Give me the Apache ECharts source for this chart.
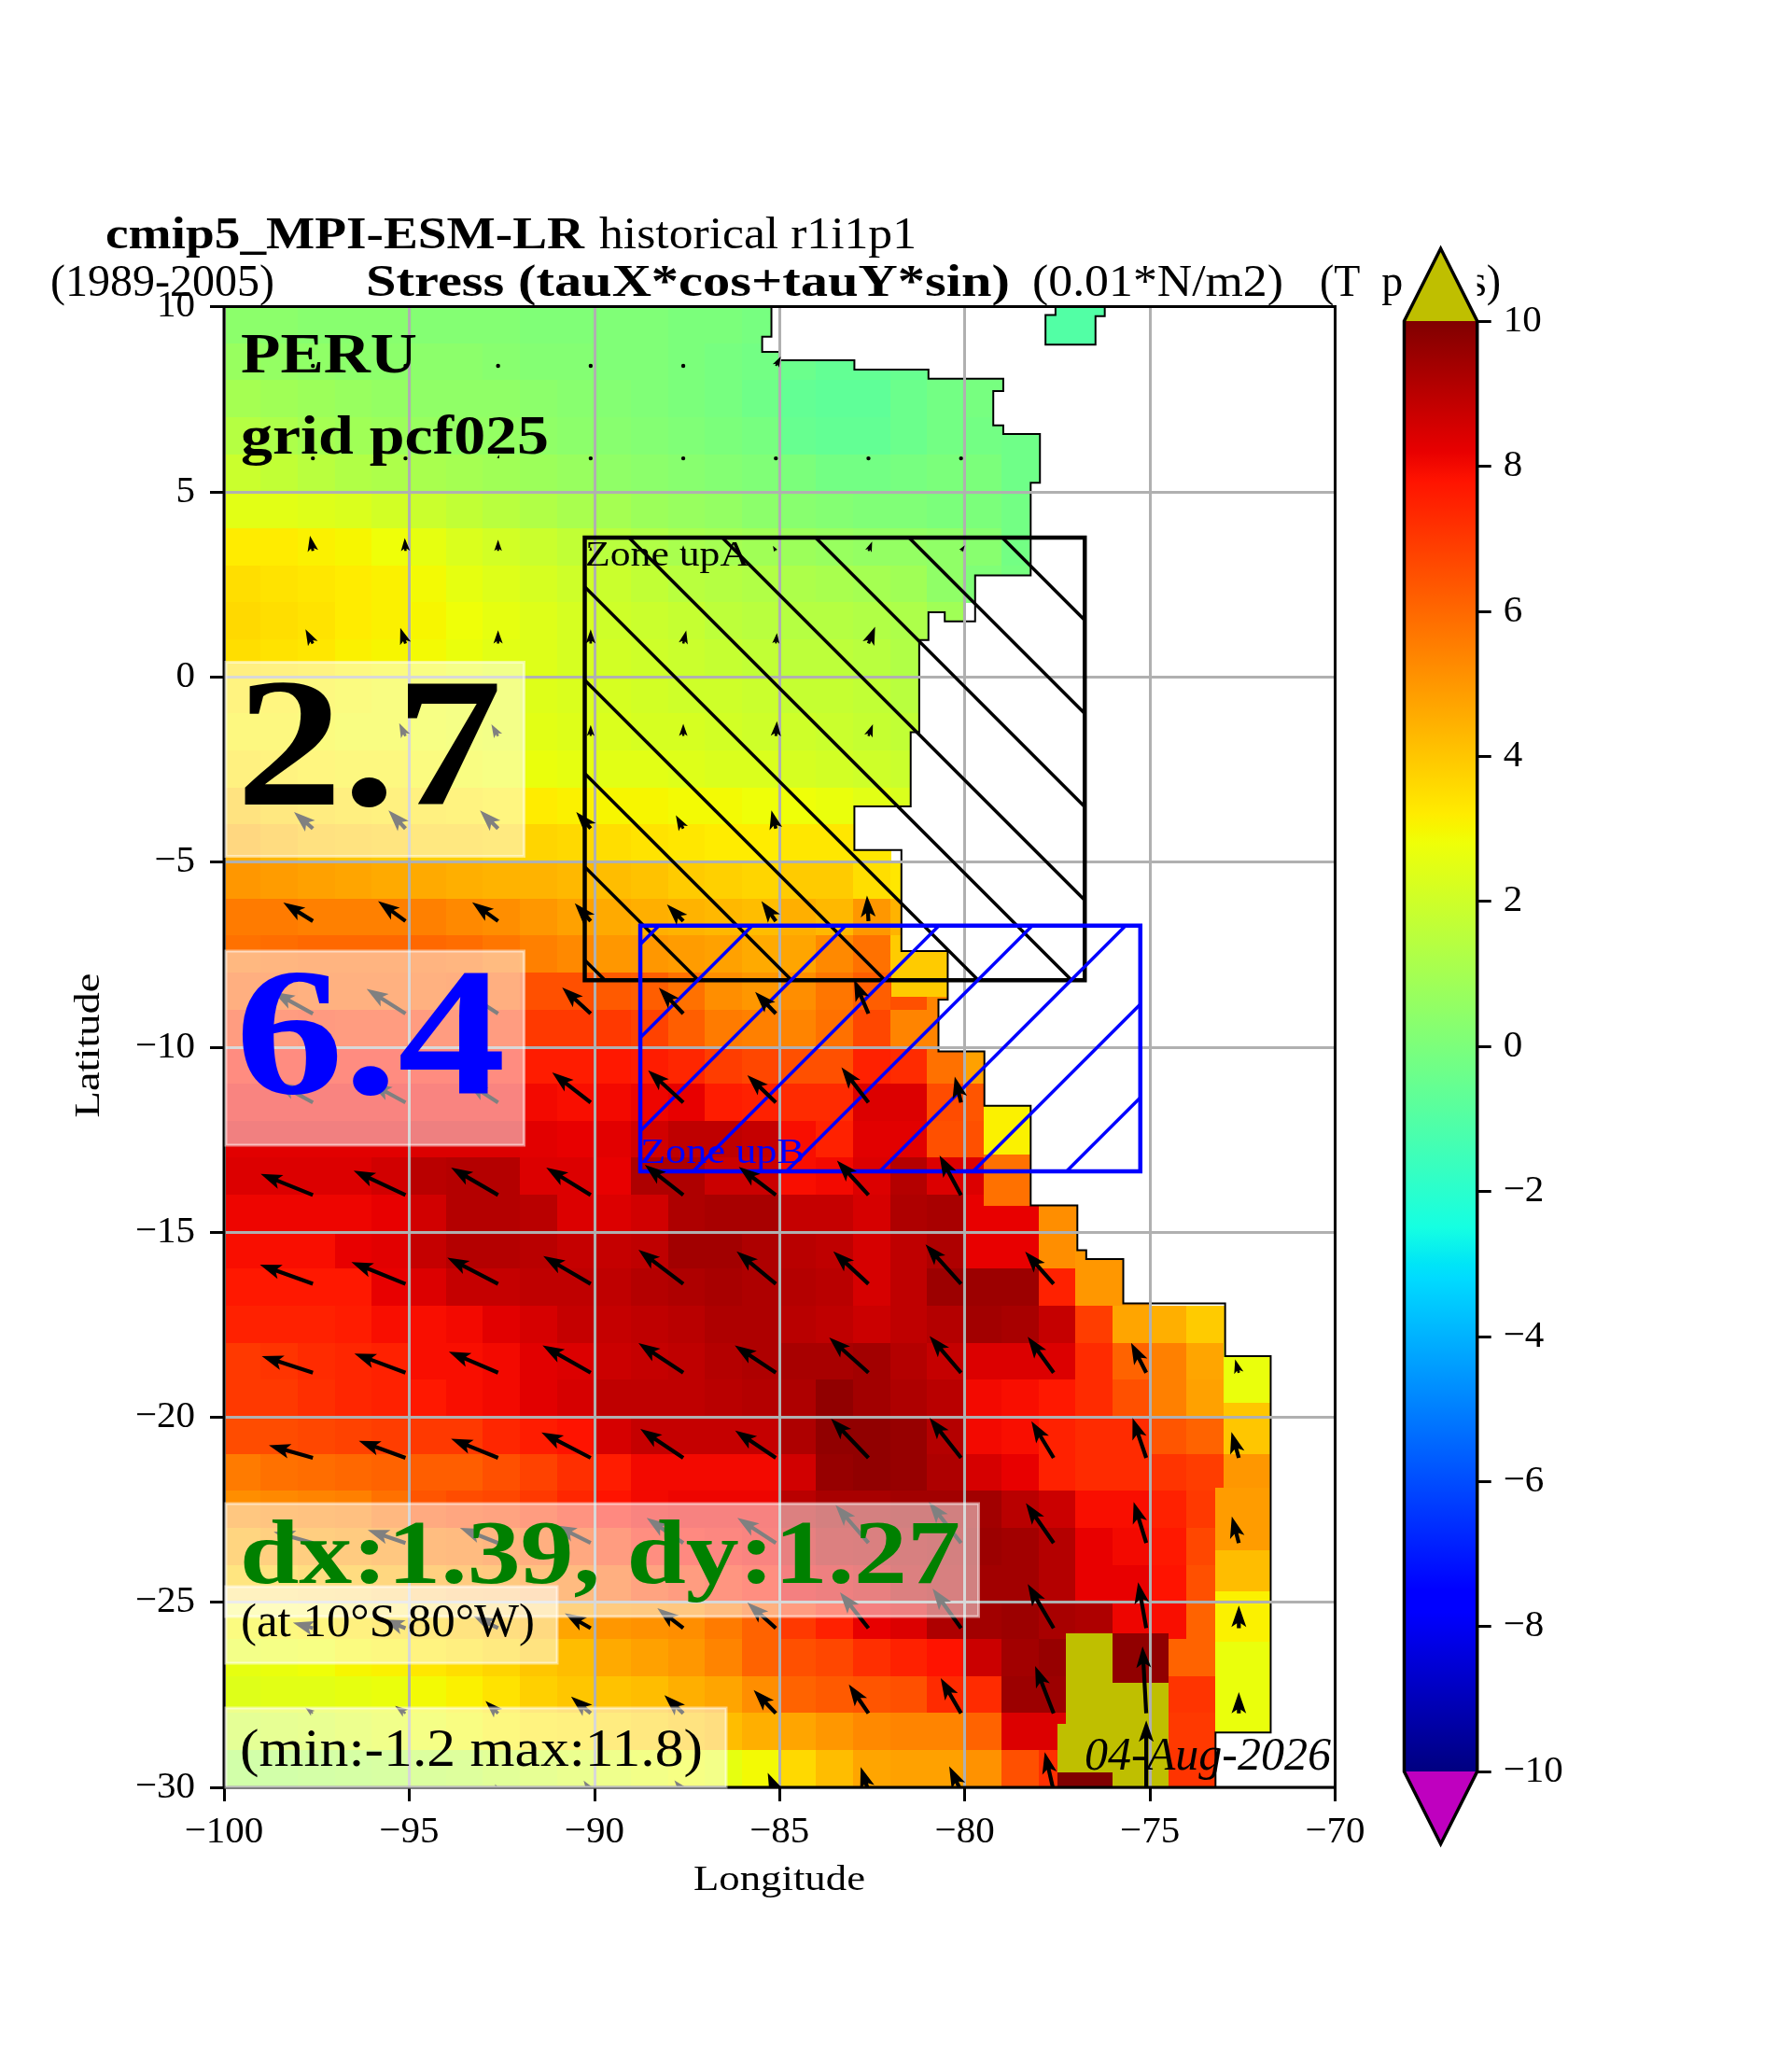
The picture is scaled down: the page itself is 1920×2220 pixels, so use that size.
<!DOCTYPE html>
<html>
<head>
<meta charset="utf-8">
<style>html,body{margin:0;padding:0;background:#fff}#chart{width:1920px;height:2220px}</style>
<script src="https://cdn.jsdelivr.net/npm/echarts@6/dist/echarts.min.js"></script>
</head>
<body>
<div id="chart"></div>
<script>
// ---------- data ----------
const fieldTopLat = 9.5;      // centre latitude of the first row, 1 degree cells
const fieldLeftLon = -100;    // left edge of the first column, 1 degree cells
const fieldRows = [
[.4,.4,.3,.3,.3,.2,.2,.2,.1,.1,.1,.1,0,0,-.1,-.1],
[.7,.6,.5,.4,.4,.4,.4,.3,.2,.2,.1,.1,0,-.1,-.2,-.4,-.6,-.6,-.5,-.3,-.2,-.1],
[1,.9,.8,.7,.6,.5,.5,.5,.4,.3,.2,.1,0,-.1,-.3,-.6,-.7,-.7,-.4,-.2,-.1,-.1],
[1.4,1.2,1,.9,.8,.7,.6,.6,.5,.4,.3,.2,.1,0,-.1,-.5,-.6,-.6,-.4,-.2,-.2,-.3,-.4],
[1.9,1.7,1.5,1.3,1.2,1.1,1,.9,.8,.7,.5,.4,.3,.2,.1,0,-.2,-.2,-.1,0,0,-.3,-.4],
[2.5,2.5,2.4,2.3,2.1,1.9,1.7,1.5,1.3,1.1,1,.8,.7,.6,.4,.3,.2,.1,.1,0,0,-.2],
[3.2,3.2,3.1,3,2.8,2.6,2.3,2.1,1.9,1.7,1.5,1.3,1.1,1,.9,.8,.7,.6,.6,.5,.3,-.2],
[3.5,3.4,3.3,3.2,3.1,2.9,2.6,2.4,2.2,2,1.9,1.7,1.5,1.4,1.3,1.2,1.1,1,.9,.5,.1,-.1],
[3.6,3.5,3.4,3.2,3.1,3,2.8,2.6,2.4,2.2,2,1.9,1.8,1.6,1.5,1.4,1.4,1.3,1.2,.9],
[3.5,3.4,3.3,3.1,3,2.9,2.7,2.5,2.4,2.2,2.1,2,1.9,1.8,1.7,1.6,1.6,1.5,1.3],
[3.3,3.2,3.1,3,2.9,2.8,2.7,2.6,2.4,2.3,2.2,2.1,2,2,1.9,1.8,1.8,1.7,1.5],
[3.1,3.1,3,2.9,2.9,2.8,2.7,2.6,2.5,2.4,2.3,2.2,2.2,2.1,2,2,1.9,1.8,1.7],
[3.4,3.3,3.2,3.1,3.1,3,2.9,2.8,2.7,2.6,2.5,2.5,2.4,2.3,2.3,2.2,2.1,2,1.9],
[4,3.8,3.6,3.5,3.4,3.4,3.3,3.2,3.2,3.1,3,3,2.9,2.9,2.8,2.8,2.7,2.5,2.3],
[4.5,4.3,4.1,4,3.9,3.8,3.8,3.7,3.7,3.6,3.5,3.4,3.3,3.2,3.2,3.3,3.3,3.3],
[5,4.9,4.8,4.7,4.6,4.6,4.5,4.4,4.4,4.3,4.2,4.1,3.9,3.8,3.7,3.9,3.9,3.5,3.3],
[5.6,5.6,5.5,5.5,5.5,5.5,5.3,5.2,5,4.8,4.6,4.5,4.4,4.3,4.2,4.5,4.3,5,4.4],
[5.8,5.9,6,6,6,6,5.9,5.7,5.5,5.3,5,5,4.9,4.8,4.6,4.7,5.3,5.8,3.9,3.9],
[6.2,6.2,6.1,6.1,6.1,6.1,6.2,6.2,6.5,6.5,6.3,6.2,5.8,5.2,5,5.2,5.7,6.2,6.5,5.4,3.9],
[7,7,7.1,7,7,7,7,7,7,7,7,6.8,6.2,5.6,5.5,5.4,5.8,6.7,5.4,5.4],
[7.7,7.7,7.7,7.7,7.7,7.7,7.7,7.7,7.6,7.6,7.7,7.6,7.4,6.9,6.7,6.5,6.5,7.5,7.3,5.8,4.8],
[8,8,8,8,8,8,8,8,8,7.9,8,8.1,8.2,7.6,7.5,7.3,7.3,8.4,8.4,6.6,6.4,3.1],
[8.3,8.3,8.3,8.3,8.3,8.4,8.4,8.4,8.3,8.2,8.3,8.6,8.9,8.9,8.8,7.9,7.5,8.3,8.3,6.5,6.5,3.1],
[8.4,8.4,8.4,8.4,8.6,9,9.1,9.1,8.4,8.4,8.2,9.2,9.2,8.7,8.7,7.9,8,8.4,9.1,8.4,8.4,5.8],
[8.1,8.1,8.1,8.1,8.2,8.6,9.1,9.1,9,8.4,8.4,8.6,9.2,9.3,9.3,8.8,8.8,8.5,9.2,9.3,8.2,8.2,5.2,5.2],
[7.9,7.9,7.9,8.2,8.3,8.8,9.1,9.1,9,8.8,8.8,8.9,9.4,9.4,9.2,9,8.9,8.5,8.9,9.2,8.2,8.2,5.2,5,5],
[7.7,7.7,7.7,7.7,8.2,8.4,8.8,8.8,8.9,8.9,8.9,9.1,9.2,9.3,9.2,9.1,9,8.5,8.9,9.5,9.5,9.5,7.5,5,5],
[7.5,7.5,7.5,7.6,7.9,7.9,8,8.3,8.5,8.8,8.8,8.9,9,9.2,9.2,9,8.9,8.7,8.9,9.1,9.4,9.3,8.8,6.9,4.7,4.5,3.9],
[7,7.1,7.3,7.4,7.5,7.9,7.9,8,8.3,8.4,8.7,8.8,8.9,9.1,9.2,9.3,9.3,9.4,9.1,8.8,8.4,8.4,8.4,7.3,6.1,5.5,4.7,2.7,2.7],
[7,7,7.2,7.4,7.5,7.7,7.9,8,8.3,8.5,8.9,8.9,8.9,9,9.1,9.2,9.7,9.4,9.2,9,8,7.9,7.7,7.3,6.5,5.5,4.8,4,4],
[6.6,6.6,6.7,6.8,6.9,7,7,7.4,7.6,7.8,8.5,8.8,8.8,8.8,8.8,9.2,9.7,9.7,9.6,9.1,8,7.9,7.5,7.3,7.3,6.4,6.1,4,4],
[5.6,5.8,5.9,6,6.1,6.2,6.2,6.5,6.8,7.2,7.6,8,8,8,8,8.6,9.6,9.7,9.6,9.2,8.5,8.2,7.5,7.3,7.3,7.1,6.9,5,5],
[5.2,5.3,5.4,5.5,5.8,6.4,6.6,6.7,7,7.4,7.8,8,8.1,8.1,8.1,9,9.3,9.3,9.4,9.4,9.4,9,8.7,7.9,7.9,7.5,7,5,5],
[4.6,4.8,4.9,5,5.2,5.6,5.7,5.9,6.2,6.5,7,7.6,7.8,7.9,8,8.6,9,9.1,9.2,9.3,9.5,9.4,9.1,8.2,8,7.7,6.7,4.2,4.2],
[3.9,4,4.2,4.3,4.5,4.8,5,5.1,5.4,5.7,6.2,6.7,7,7.3,7.6,8.2,8.4,8.6,9,9.2,9.4,9.4,9.1,8.2,8.2,7.8,6.5,4.2,4.2],
[3,3.1,3.2,3.4,3.6,3.8,4,4.2,4.4,4.7,5,5.1,5.2,5.6,6.1,7,7.5,8.2,8.4,9.2,9.4,9.5,9.3,9.2,8.1,7.9,6.1,3.1,3.1],
[2.6,2.7,2.8,3,3.1,3.3,3.5,3.7,4,4.2,4.6,4.8,5,5.4,6.1,6.5,6.7,7.2,7.5,7.8,8.7,9.4,9.6,9.6,9.7,6.1,6.1,2.7,2.7],
[2.4,2.5,2.5,2.6,2.7,2.9,3.1,3.4,3.8,4,4.1,4.2,4.5,4.7,5.2,6.1,6.3,6.4,6.5,7.3,7.3,9.5,9.5,9.5,9.5,7.1,7.1,2.7,2.7],
[1.9,2,2.1,2.3,2.5,2.7,2.9,3.1,3.3,3.4,3.6,3.8,4,4.2,4.5,4.7,5,5.3,5.4,5.4,6.1,8.4,8.4,8.4,7,7,7,2.7,2.7],
[1,1,1.1,1.2,1.3,1.5,1.6,1.8,2,2.2,2.4,2.6,2.8,2.6,2.9,3.6,4.2,4.7,4.8,4.8,5.1,6.5,7.2,7.2,7.1,7.1,7.1]
];
// finer areas of the field: lon from, lon to, lat from, lat to, value
const fieldPatchLon0 = [-77.27,-76.01,-77.27,-77.5,-77.5,-79.5,-79.5,-81.98,-73.25,-73.25,-73.25,-73.25,-73,-73];
const fieldPatchLon1 = [-76.01,-74.5,-74.5,-74.5,-76.01,-78.22,-78.22,-80.46,-71.74,-71.74,-71.74,-71.74,-71.74,-71.74];
const fieldPatchLat0 = [-27.18,-27.18,-28.28,-30,-30,-12.9,-14.28,-8.65,-23.6,-24.7,-26.07,-28.52,-21,-19.62];
const fieldPatchLat1 = [-25.84,-25.84,-27.18,-28.28,-29.6,-11.59,-12.9,-7.41,-21.9,-23.6,-24.7,-26.07,-20,-18.35];
const fieldPatchVal  = [12,9.7,12,12,10,3.1,5.8,3.9,4.9,4.2,3.1,2.7,4,2.7];

const coastLon = [-85.22,-85.22,-85.47,-85.47,-84.99,-84.99,-82.98,-82.98,-80.98,-80.98,-78.96,-78.96,-79.23,-79.23,-78.96,-78.96,-77.97,-77.97,-78.22,-78.22,-79.72,-79.72,-80.54,-80.54,-80.98,-80.98,-81.23,-81.23,-81.46,-81.46,-82.98,-82.98,-81.71,-81.71,-80.46,-80.46,-80.71,-80.71,-79.47,-79.47,-78.22,-78.22,-76.96,-76.96,-76.72,-76.72,-75.72,-75.72,-72.97,-72.97,-71.74,-71.74,-73.23,-73.23];
const coastLat = [10,9.19,9.19,8.78,8.78,8.55,8.55,8.3,8.3,8.05,8.05,7.72,7.72,6.79,6.79,6.56,6.56,5.24,5.24,2.74,2.74,1.5,1.5,1.74,1.74,.99,.99,-1.5,-1.5,-3.5,-3.5,-4.68,-4.68,-7.41,-7.41,-8.72,-8.72,-10.12,-10.12,-11.59,-11.59,-14.28,-14.28,-15.49,-15.49,-15.73,-15.73,-16.93,-16.93,-18.35,-18.35,-28.52,-28.52,-30];
const islandLon = [-76.22,-76.22,-76.47,-76.47,-77.82,-77.82,-77.55,-77.55];
const islandLat = [10,9.74,9.74,8.97,8.97,9.77,9.77,10];
const islandValue = -1;

const arrowLons = [-97.6,-95.1,-92.6,-90.1,-87.6,-85.1,-82.6,-80.1,-77.6,-75.1,-72.6];
const arrowLats = [8.4,5.9,3.4,.9,-1.6,-4.1,-6.6,-9.1,-11.5,-14,-16.4,-18.8,-21.1,-23.4,-25.7,-28,-30.1];
const arrowU = [
[-.02,0,0,-.06,-.06,.13],
[0,0,.03,0,0,0,0,-.05],
[-.08,-.02,0,0,0,-.08,.1,.1],
[-.2,-.14,0,0,.08,.03,.18],
[-.2,-.17,-.18,0,0,.03,.12],
[-.51,-.46,-.49,-.39,-.2,-.12],
[-.8,-.74,-.7,-.43,-.44,-.39,-.04],
[-1.07,-1.05,-.9,-.77,-.66,-.56,-.39],
[-1,-.95,-.85,-1.04,-.95,-.77,-.73,-.17],
[-1.41,-1.4,-1.27,-1.2,-1.04,-1,-.85,-.58],
[-1.43,-1.46,-1.37,-1.28,-1.21,-1.06,-.95,-.96,-.77],
[-1.38,-1.38,-1.33,-1.3,-1.21,-1.11,-1.06,-.85,-.7,-.41,-.1],
[-1.19,-1.26,-1.27,-1.33,-1.16,-1.1,-1.01,-.85,-.6,-.37,-.2],
[-1.06,-1.02,-1.03,-.96,-.99,-1.04,-.89,-.87,-.75,-.34,-.19],
[-.54,-.61,-.67,-.7,-.7,-.77,-.77,-.77,-.7,-.22,0],
[-.2,-.28,-.34,-.53,-.51,-.6,-.53,-.55,-.5,-.1,0],
[-.1,-.08,-.08,-.19,-.24,-.22,-.21,-.32,-.24,0]
];
const arrowV = [
[.04,.05,.04,.04,.04,.25],
[.1,.1,.1,.03,.03,.03,.03,.06],
[.41,.35,.3,.12,.15,.14,.25,.15],
[.38,.42,.36,.38,.35,.28,.45],
[.3,.35,.32,.3,.33,.4,.32],
[.45,.49,.49,.45,.36,.49],
[.5,.54,.51,.48,.45,.54,.69],
[.59,.67,.58,.71,.7,.59,.92],
[.55,.52,.55,.81,.87,.74,.95,.7],
[.57,.66,.74,.74,.82,.76,.93,1.07],
[.52,.59,.71,.75,.92,.88,.88,1.07,.87],
[.45,.52,.57,.74,.8,.74,.95,.99,.97,.81,.36],
[.34,.46,.52,.69,.78,.74,1.06,1.08,.99,1.08,.7],
[.3,.35,.41,.48,.68,.68,1.03,1.11,1.08,1.11,.72],
[.15,.23,.33,.4,.54,.69,.97,1.07,1.19,1.24,.61],
[.15,.2,.33,.45,.49,.63,.78,.95,1.28,1.81,.57],
[.08,.1,.19,.28,.29,.49,.65,.67,1.05,1.91]
];
const zoneALon = [-90.26,-76.76];
const zoneALat = [-8.2,3.76];
const zoneBLon = [-88.76,-75.26];
const zoneBLat = [-13.36,-6.72];

const xTicks = {min:-100,max:-70,interval:5};
const yTicks = {min:-30,max:10,interval:5};
const cbarTicks = {min:-10,max:10,interval:2};
const cbarExtend = 1;

// ---------- colour scale (jet with over / under colours) ----------
const jetR = [[0,0],[.35,0],[.66,1],[.89,1],[1,.5]];
const jetG = [[0,0],[.125,0],[.375,1],[.64,1],[.91,0],[1,0]];
const jetB = [[0,.5],[.11,1],[.34,1],[.65,0],[1,0]];
const overColor = 'rgb(191,191,0)';
const underColor = 'rgb(191,0,191)';
function knot(tab,t){for(let i=1;i<tab.length;i++){if(t<=tab[i][0]){const a=tab[i-1],b=tab[i];return a[1]+(b[1]-a[1])*(t-a[0])/(b[0]-a[0]);}}return tab[tab.length-1][1];}
function jet(t){return 'rgb('+Math.round(255*knot(jetR,t))+','+Math.round(255*knot(jetG,t))+','+Math.round(255*knot(jetB,t))+')';}
function colorOf(v){if(v>10)return overColor;if(v<-10)return underColor;return jet((v+10)/20);}

// ---------- chart ----------
const FONT='"Liberation Serif"';
const chart=echarts.init(document.getElementById('chart'),null,{renderer:'canvas',width:1920,height:2220});
const fieldData=[];
fieldRows.forEach((row,i)=>row.forEach((v,j)=>fieldData.push([fieldLeftLon+j,fieldTopLat-i,v])));
const patchData=fieldPatchVal.map((v,i)=>[fieldPatchLon0[i],fieldPatchLat0[i],fieldPatchLon1[i],fieldPatchLat1[i],v]);
const arrowData=[];
arrowU.forEach((row,i)=>row.forEach((u,j)=>arrowData.push([arrowLons[j],arrowLats[i],u,arrowV[i][j]])));

function pts(lons,lats,api){return lons.map((x,i)=>api.coord([x,lats[i]]));}
const measure=document.createElement('canvas').getContext('2d');
function label(str,x,base,size,opt){
  opt=opt||{};
  const font=(opt.style||'')+' '+(opt.weight||'')+' '+size+'px '+FONT;
  measure.font=font;
  const w=measure.measureText(str).width;
  const sx=opt.width?opt.width/w:1;
  const off=0.26*size;
  const rot=opt.rotation||0;
  return {type:'text',silent:true,z:opt.z===undefined?30:opt.z,x:x+(rot?-off:0),y:base-(rot?0:off),scaleX:sx,rotation:rot,
    style:{text:str,font:font,fill:opt.color||'#000',textAlign:opt.align||'left',textVerticalAlign:'middle'}};
}
function box(x0,y0,x1,y1){
  return {type:'rect',silent:true,z:20,shape:{x:x0+2,y:y0+2,width:x1-x0-4,height:y1-y0-4},
    style:{fill:'rgba(255,255,255,0.5)',stroke:'rgba(255,255,255,0.5)',lineWidth:3}};
}
function tickFmt(v){return String(v).replace('-','\u2212');}
function hatchLines(x0,y0,x1,y1,dir,off,step,color){
  const out=[];
  if(dir<0){ // "\" : y-x=c
    for(let c=y0-x1+((off-(y0-x1))%step+step)%step;c<y1-x0;c+=step){
      const a=Math.max(x0,y0-c),b=Math.min(x1,y1-c);
      if(b>a)out.push({type:'line',shape:{x1:a,y1:a+c,x2:b,y2:b+c},style:{stroke:color,lineWidth:3.5}});
    }
  }else{ // "/" : x+y=c
    for(let c=x0+y0+off;c<x1+y1;c+=step){
      const a=Math.max(x0,c-y1),b=Math.min(x1,c-y0);
      if(b>a)out.push({type:'line',shape:{x1:a,y1:c-a,x2:b,y2:c-b},style:{stroke:color,lineWidth:3.5}});
    }
  }
  return out;
}
function zoneRender(lons,lats,color,dir,off){
  return function(params,api){
    const p0=api.coord([lons[0],lats[1]]),p1=api.coord([lons[1],lats[0]]);
    const kids=hatchLines(p0[0],p0[1],p1[0],p1[1],dir,off(p0,p1),100,color);
    kids.push({type:'rect',shape:{x:p0[0],y:p0[1],width:p1[0]-p0[0],height:p1[1]-p0[1]},style:{fill:'none',stroke:color,lineWidth:4.5}});
    return {type:'group',children:kids};
  };
}
const option={
  animation:false,
  backgroundColor:'#fff',
  grid:[
    {left:240,top:328.5,width:1190.5,height:1586.5,containLabel:false},
    {left:1504.5,top:344,width:78.2,height:1554,containLabel:false}
  ],
  xAxis:[
    Object.assign({type:'value',gridIndex:0,position:'bottom',z:3,
      axisLine:{show:false,onZero:false},
      axisTick:{show:true,length:15,lineStyle:{color:'#000',width:3}},
      axisLabel:{fontFamily:FONT,fontSize:41,color:'#000',margin:28,formatter:tickFmt},
      splitLine:{show:true,lineStyle:{color:'#b0b0b0',width:3}}},xTicks),
    {type:'value',gridIndex:1,min:0,max:1,show:false}
  ],
  yAxis:[
    Object.assign({type:'value',gridIndex:0,position:'left',z:3,
      axisLine:{show:false,onZero:false},
      axisTick:{show:true,length:15,lineStyle:{color:'#000',width:3}},
      axisLabel:{fontFamily:FONT,fontSize:41,color:'#000',margin:31,formatter:tickFmt},
      splitLine:{show:true,lineStyle:{color:'#b0b0b0',width:3}}},yTicks),
    Object.assign({type:'value',gridIndex:1,position:'right',z:6,
      axisLine:{show:false,onZero:false},
      axisTick:{show:true,length:15,lineStyle:{color:'#000',width:3}},
      axisLabel:{fontFamily:FONT,fontSize:41,color:'#000',margin:28,formatter:tickFmt},
      splitLine:{show:false}},cbarTicks)
  ],
  series:[
    {type:'custom',name:'field',xAxisIndex:0,yAxisIndex:0,z:1,silent:true,clip:true,data:fieldData,
      encode:{x:0,y:1},
      renderItem:function(params,api){
        const lon=api.value(0),lat=api.value(1);
        const a=api.coord([lon,lat+.5]),b=api.coord([lon+1,lat-.5]);
        const x0=Math.floor(a[0]),y0=Math.floor(a[1]),x1=Math.ceil(b[0]),y1=Math.ceil(b[1]);
        return {type:'rect',shape:{x:x0,y:y0,width:x1-x0,height:y1-y0},style:{fill:colorOf(api.value(2))}};
      }},
    {type:'custom',name:'fieldPatches',xAxisIndex:0,yAxisIndex:0,z:1,silent:true,clip:true,data:patchData,
      encode:{x:0,y:1},
      renderItem:function(params,api){
        const a=api.coord([api.value(0),api.value(3)]),b=api.coord([api.value(2),api.value(1)]);
        const x0=Math.round(a[0]),y0=Math.round(a[1]),x1=Math.round(b[0]),y1=Math.round(b[1]);
        return {type:'rect',shape:{x:x0,y:y0,width:x1-x0,height:y1-y0},style:{fill:colorOf(api.value(4))}};
      }},
    {type:'custom',name:'land',xAxisIndex:0,yAxisIndex:0,z:2,silent:true,clip:true,data:[[-70,10]],
      renderItem:function(params,api){
        const c=pts(coastLon,coastLat,api);
        const land=c.concat([api.coord([-70,-30]),api.coord([-70,10])]);
        const isl=pts(islandLon,islandLat,api);
        return {type:'group',children:[
          {type:'polygon',shape:{points:land},style:{fill:'#fff'}},
          {type:'polyline',shape:{points:c},style:{fill:'none',stroke:'#000',lineWidth:2}},
          {type:'polygon',shape:{points:isl},style:{fill:colorOf(islandValue)}},
          {type:'polyline',shape:{points:isl},style:{fill:'none',stroke:'#000',lineWidth:2}}
        ]};
      }},
    {type:'custom',name:'zoneA',xAxisIndex:0,yAxisIndex:0,z:4,silent:true,clip:false,data:[[-80,0]],
      renderItem:zoneRender(zoneALon,zoneALat,'#000',-1,(p0,p1)=>(p0[1]-p0[0]+52.7))},
    {type:'custom',name:'zoneB',xAxisIndex:0,yAxisIndex:0,z:4,silent:true,clip:false,data:[[-80,-10]],
      renderItem:zoneRender(zoneBLon,zoneBLat,'#0000ff',1,()=>20)},
    {type:'custom',name:'arrows',xAxisIndex:0,yAxisIndex:0,z:5,silent:true,clip:true,data:arrowData,
      encode:{x:0,y:1},
      renderItem:function(params,api){
        const lon=api.value(0),lat=api.value(1),u=api.value(2),v=api.value(3);
        const t=api.coord([lon,lat]),q=api.coord([lon+u,lat+v]);
        const dx=q[0]-t[0],dy=q[1]-t[1],L=Math.hypot(dx,dy);
        if(L<4)return {type:'circle',shape:{cx:t[0],cy:t[1],r:2.2},style:{fill:'#000'}};
        const W=4.2,HL=23,HW=16,HA=19,k=Math.min(1,L/HL);
        const w=W*k/2,hl=HL*k,hw=HW*k/2,ha=HA*k,ex=dx/L,ey=dy/L,nx=-ey,ny=ex;
        const P=(s,n)=>[t[0]+ex*s+nx*n,t[1]+ey*s+ny*n];
        return {type:'polygon',shape:{points:[P(0,w),P(L-ha,w),P(L-hl,hw),P(L,0),P(L-hl,-hw),P(L-ha,-w),P(0,-w)]},style:{fill:'#000'}};
      }},
    {type:'custom',name:'frame',xAxisIndex:0,yAxisIndex:0,z:6,silent:true,clip:false,data:[[-85,-10]],
      renderItem:function(params,api){
        const a=api.coord([-100,10]),b=api.coord([-70,-30]);
        return {type:'rect',shape:{x:a[0],y:a[1],width:b[0]-a[0],height:b[1]-a[1]},style:{fill:'none',stroke:'#000',lineWidth:3}};
      }},
    {type:'custom',name:'colorbar',xAxisIndex:1,yAxisIndex:1,z:5,silent:true,clip:false,data:[[.5,0]],
      renderItem:function(params,api){
        const mn=cbarTicks.min,mx=cbarTicks.max,e=cbarExtend;
        const tl=api.coord([0,mx]),br=api.coord([1,mn]),up=api.coord([.5,mx+e]),dn=api.coord([.5,mn-e]);
        const stops=[0,.11,.125,.34,.35,.375,.64,.65,.66,.89,.91,1].map(t=>({offset:1-t,color:jet(t)})).reverse();
        const outline=[[tl[0],tl[1]],up,[br[0],tl[1]],[br[0],br[1]],dn,[tl[0],br[1]]];
        return {type:'group',children:[
          {type:'rect',shape:{x:tl[0],y:up[1],width:br[0]-tl[0],height:dn[1]-up[1]},style:{fill:'#fff'}},
          {type:'rect',shape:{x:tl[0],y:tl[1],width:br[0]-tl[0],height:br[1]-tl[1]},
            style:{fill:new echarts.graphic.LinearGradient(0,0,0,1,stops)}},
          {type:'polygon',shape:{points:[[tl[0],tl[1]],up,[br[0],tl[1]]]},style:{fill:overColor}},
          {type:'polygon',shape:{points:[[tl[0],br[1]],dn,[br[0],br[1]]]},style:{fill:underColor}},
          {type:'polygon',shape:{points:outline},style:{fill:'none',stroke:'#000',lineWidth:3.5,lineJoin:'miter'}}
        ]};
      }}
  ],
  graphic:{elements:[
    label('cmip5_MPI-ESM-LR',113,266,48,{weight:'bold',width:513,z:1}),
    label('historical r1i1p1',642,266,48,{width:340,z:1}),
    label('(1989-2005)',54,317,48,{width:240,z:1}),
    label('Stress (tauX*cos+tauY*sin)',392,317,48,{weight:'bold',width:690,z:1}),
    label('(0.01*N/m2)',1106,317,48,{width:269,z:1}),
    label('(T  points)',1414,317,48,{width:194,z:1}),
    label('Longitude',743,2025,38,{width:184,z:1}),
    label('Latitude',106,1120,38,{width:155,rotation:Math.PI/2,align:'center',z:1}),
    label('Zone upA',627,606,38,{width:176,z:10}),
    label('Zone upB',686,1246,38,{width:176,color:'#0000ff',z:10}),
    box(240,707.5,563.5,919.5),
    box(240,1017,563.5,1229),
    box(240,1609,1050.5,1734),
    box(240,1698,599,1784),
    box(240,1828,780,1917),
    label('PERU',258,399,62,{weight:'bold',width:189}),
    label('grid pcf025',258,486,60,{weight:'bold',width:330}),
    label('2.7',253,862,198,{weight:'bold',width:285}),
    label('6.4',252,1171,195,{weight:'bold',width:290,color:'#0000ff'}),
    label('dx:1.39, dy:1.27',257,1696,98,{weight:'bold',width:772,color:'#008000'}),
    label('(at 10\u00b0S 80\u00b0W)',258,1753,50,{width:315}),
    label('(min:-1.2 max:11.8)',257,1892,56,{width:496}),
    label('04-Aug-2026',1162,1896,50,{style:'italic',width:264})
  ]}
};
chart.setOption(option);
</script>
</body>
</html>
